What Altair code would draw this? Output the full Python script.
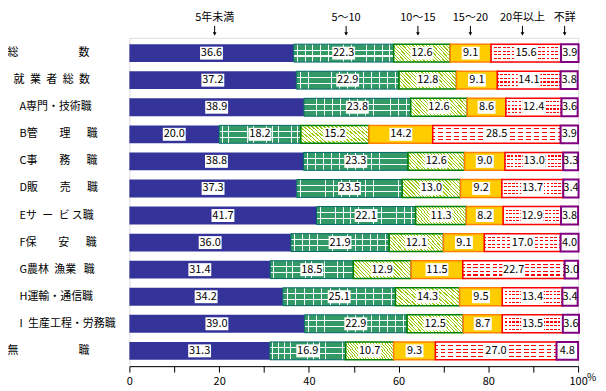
import altair as alt
import pandas as pd

# ---- data ----
categories = [
    "総　　　　　\u2002数",
    "就\u2002業\u2002者\u2002総\u2002数",
    "A専門・技術職",
    "B管　　理　\u2002職",
    "C事　　務　\u2002職",
    "D販　　売　\u2002職",
    "Eサ\u2002ー\u2002ビ\u2009ス職",
    "F保　　安　\u2002職",
    "G農林\u2002漁業\u2002\u2009職",
    "H運輸・通信職",
    "I\u2002生産工程・労務職",
    "無　　　　　\u2002職",
]
series = ["5年未満", "5～10", "10～15", "15～20", "20年以上", "不詳"]
under5 = [36.6, 37.2, 38.9, 20.0, 38.8, 37.3, 41.7, 36.0, 31.4, 34.2, 39.0, 31.3]
y5_10 = [22.3, 22.9, 23.8, 18.2, 23.3, 23.5, 22.1, 21.9, 18.5, 25.1, 22.9, 16.9]
y10_15 = [12.6, 12.8, 12.6, 15.2, 12.6, 13.0, 11.3, 12.1, 12.9, 14.3, 12.5, 10.7]
y15_20 = [9.1, 9.1, 8.6, 14.2, 9.0, 9.2, 8.2, 9.1, 11.5, 9.5, 8.7, 9.3]
over20 = [15.6, 14.1, 12.4, 28.5, 13.0, 13.7, 12.9, 17.0, 22.7, 13.4, 13.5, 27.0]
unknown = [3.9, 3.8, 3.6, 3.9, 3.3, 3.4, 3.8, 4.0, 3.0, 3.4, 3.6, 4.8]
legend_pos = [19.0, 48.3, 64.3, 76.0, 87.6, 97.0]
x_ticks = list(range(0, 101, 10))

FONT = "Noto Sans CJK JP"
W, H = 451, 330

rows = []
all_vals = [under5, y5_10, y10_15, y15_20, over20, unknown]
for i, cat in enumerate(categories):
    start = 0.0
    for j, s in enumerate(series):
        v = all_vals[j][i]
        rows.append({"cat": cat, "series": s, "value": v, "start": start,
                     "end": start + v, "mid": start + v / 2, "label": f"{v:.1f}"})
        start += v
df = pd.DataFrame(rows)
leg = pd.DataFrame({"name": series, "pos": legend_pos})


def stripes(n, frac, c_line, c_bg):
    stops = []
    for k in range(n):
        c = (k + 0.5) / n
        a, b = c - frac / (2 * n), c + frac / (2 * n)
        for off, col in [(k / n, c_bg), (a, c_bg), (a, c_line), (b, c_line), (b, c_bg), ((k + 1) / n, c_bg)]:
            stops.append({"offset": round(min(max(off, 0), 1), 4), "color": col})
    return stops


def rows_grad(offsets, width, c_line, c_bg):
    stops = [{"offset": 0, "color": c_bg}]
    for o in offsets:
        stops += [{"offset": round(o - width / 2, 4), "color": c_bg},
                  {"offset": round(o - width / 2, 4), "color": c_line},
                  {"offset": round(o + width / 2, 4), "color": c_line},
                  {"offset": round(o + width / 2, 4), "color": c_bg}]
    stops.append({"offset": 1, "color": c_bg})
    return stops


TR = "rgba(255,255,255,0)"
GREEN = "#339966"
green_v = {"gradient": "linear", "x1": 0, "y1": 0, "x2": 1, "y2": 0,
           "stops": stripes(13, 0.1, "#ffffff", GREEN)}
green_h = {"gradient": "linear", "x1": 0, "y1": 0, "x2": 0, "y2": 1,
           "stops": rows_grad([0.33, 0.66], 0.06, "#ffffff", TR)}
hatch = {"gradient": "linear", "x1": 0, "y1": 1, "x2": 1.1927, "y2": 0.6422,
         "stops": stripes(22, 0.35, "#99cc00", "#ffffff")}
red_rows = {"gradient": "linear", "x1": 0, "y1": 0, "x2": 0, "y2": 1,
            "stops": rows_grad([0.2, 0.4, 0.6, 0.8], 0.06, "#ff0000", "#ffffff")}
red_gaps = {"gradient": "linear", "x1": 0, "y1": 0, "x2": 1, "y2": 0,
            "stops": stripes(16, 0.35, "#ffffff", TR)}

yscale = alt.Scale(domain=categories, paddingInner=0.34, paddingOuter=0.235)
xscale = alt.Scale(domain=[0, 100], nice=False)

label_pad = {
    "condition": [
        {"test": "test(regexp('^[A-I]'), datum.value)", "value": 111},
        {"test": "indexof(datum.value, '就') == 0", "value": 117},
    ],
    "value": 123,
}

base = alt.Chart(df)
Y = alt.Y("cat:N", sort=categories, scale=yscale,
          axis=alt.Axis(title=None, domain=False, ticks=False, tickSize=0,
                        labelAlign="left", labelPadding=label_pad, labelFontSize=11,
                        labelFont=FONT, labelColor="black", labelLimit=0))
X = alt.X("start:Q", scale=xscale,
          axis=alt.Axis(title=None, values=x_ticks, grid=False, tickSize=6,
                        tickColor="black", domainColor="black", labelColor="black",
                        labelFont=FONT, labelFontSize=11, labelPadding=3,
                        labelFlush=False, labelOverlap=False,
                        labelExpr="datum.value % 20 == 0 ? datum.label : ''"))


def seg(name, **mark):
    return base.transform_filter(alt.datum.series == name).mark_bar(**mark).encode(
        x=X, x2="end:Q", y=Y)


layers = [
    seg("5年未満", fill="#333399"),
    seg("5～10", fill=green_v),
    seg("5～10", fill=green_h, stroke="#006666", strokeWidth=1),
    seg("10～15", fill=hatch, stroke="#008000", strokeWidth=1.5),
    seg("15～20", fill="#ffcc00", stroke="#ff8000", strokeWidth=1.5),
    seg("20年以上", fill=red_rows),
    seg("20年以上", fill=red_gaps, stroke="#ff0000", strokeWidth=1.5),
    seg("不詳", fill="#ffffff", stroke="#800080", strokeWidth=2),
]

box4 = base.transform_filter("datum.series != '不詳' && length(datum.label) == 4").mark_tick(
    thickness=23, size=13, color="white", opacity=1).encode(x=alt.X("mid:Q", scale=xscale), y=Y)
box3 = base.transform_filter("datum.series != '不詳' && length(datum.label) == 3").mark_tick(
    thickness=18, size=13, color="white", opacity=1).encode(x=alt.X("mid:Q", scale=xscale), y=Y)
texts = base.mark_text(font=FONT, fontSize=11, color="black", baseline="middle").encode(
    x=alt.X("mid:Q", scale=xscale), y=Y, text="label:N")

lbase = alt.Chart(leg)
leg_text = lbase.mark_text(font=FONT, fontSize=11, color="black", baseline="middle").encode(
    x=alt.X("pos:Q", scale=xscale), y=alt.value(-20), text="name:N")
leg_rule = lbase.mark_rule(color="black", strokeWidth=1).encode(
    x=alt.X("pos:Q", scale=xscale), y=alt.value(-12), y2=alt.value(-3))
leg_head = lbase.mark_point(shape="triangle-down", filled=True, color="black", size=14, opacity=1).encode(
    x=alt.X("pos:Q", scale=xscale), y=alt.value(-4))

pct = alt.Chart(pd.DataFrame({"p": [100]})).mark_text(
    font=FONT, fontSize=10, color="black", align="left", baseline="middle", dx=9).encode(
    x=alt.X("p:Q", scale=xscale), y=alt.value(H + 12), text=alt.value("%"))

chart = alt.layer(*layers, box4, box3, texts, leg_rule, leg_head, leg_text, pct).properties(
    width=W, height=H,
    autosize=alt.AutoSizeParams(type="none"),
    padding={"left": 122, "top": 29, "right": 20, "bottom": 22},
).configure_view(stroke=None).configure(background="white")

chart.save("out.html", embed_options={"renderer": "svg", "actions": False})
